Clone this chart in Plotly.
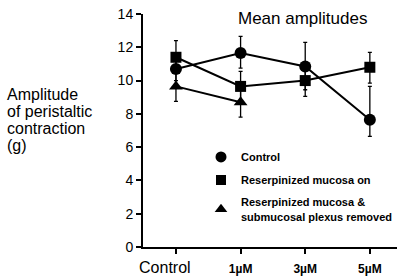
import plotly.graph_objects as go

conditions = ["Control", "1µM", "3µM", "5µM"]
tick_labels = ["Control" + "\u00a0" * 5,
               "<span style='font-size:12px'><b>1µM</b></span>",
               "<span style='font-size:12px'><b>3µM</b></span>",
               "<span style='font-size:12px'><b>5µM</b></span>"]

control_mean = [10.7, 11.65, 10.85, 7.65]
control_err_plus = [0.7, 1.0, 1.45, 2.0]
control_err_minus = [0.7, 0.9, 1.4, 1.0]

reserp_mean = [11.4, 9.65, 10.0, 10.8]
reserp_err_plus = [1.0, 0.9, 1.0, 0.9]
reserp_err_minus = [0.9, 0.9, 0.95, 0.95]

removed_conditions = ["Control", "1µM"]
removed_mean = [9.65, 8.7]
removed_err = [0.9, 0.9]

series_names = ["Control", "Reserpinized mucosa on",
                "Reserpinized mucosa &<br>submucosal plexus removed"]

xpos = {c: i for i, c in enumerate(conditions)}

fig = go.Figure()

def add_series(xs, ys, ep, em, symbol, size, name):
    fig.add_trace(go.Scatter(
        x=[xpos[c] for c in xs], y=ys, mode="lines+markers",
        line=dict(color="black", width=2),
        marker=dict(symbol=symbol, size=size, color="black"),
        error_y=dict(type="data", symmetric=False, array=ep, arrayminus=em,
                     color="black", thickness=1.3, width=2),
        showlegend=False, cliponaxis=False))
    fig.add_trace(go.Scatter(
        x=[None], y=[None], mode="markers", name=name,
        marker=dict(symbol=symbol, size=size - 1, color="black"),
        showlegend=True, legendgroup=name))

add_series(conditions, control_mean, control_err_plus, control_err_minus, "circle", 12, series_names[0])
add_series(conditions, reserp_mean, reserp_err_plus, reserp_err_minus, "square", 11, series_names[1])
add_series(removed_conditions, removed_mean, removed_err, removed_err, "triangle-up", 12, series_names[2])

fig.update_layout(
    width=397, height=278,
    margin=dict(l=143, r=0, t=14, b=31),
    paper_bgcolor="white", plot_bgcolor="white",
    font=dict(family="Arial", color="black"),
    showlegend=True,
    legend=dict(x=1, y=0.449, xanchor="right", yanchor="top",
                bgcolor="rgba(0,0,0,0)", tracegroupgap=4, borderwidth=0,
                font=dict(family="Arial", size=11, color="black", weight="bold")),
    xaxis=dict(range=[-0.51, 3.42], tickvals=[0, 1, 2, 3], ticktext=tick_labels,
               showgrid=False, zeroline=False, showline=True, linecolor="black",
               linewidth=2, ticks="outside", ticklen=5, tickwidth=2, tickcolor="black",
               tickfont=dict(family="Arial", size=16, color="black")),
    yaxis=dict(range=[0, 14], tickvals=[0, 2, 4, 6, 8, 10, 12, 14],
               showgrid=False, zeroline=False, showline=True, linecolor="black",
               linewidth=2, ticks="outside", ticklen=5, tickwidth=2, tickcolor="black",
               tickfont=dict(family="Arial", size=14, color="black")),
)

def py(p):
    return (246.5 - p) / 232.5

def px(p):
    return (p - 143) / 254

fig.add_annotation(text="Mean amplitudes", xref="paper", yref="paper",
                   x=px(302), y=py(18), xanchor="center", yanchor="middle",
                   showarrow=False, font=dict(family="Arial", size=17, color="black"))

ylines = ["Amplitude", "of peristaltic", "contraction", "(g)"]
ycent = [94, 111, 128, 145]
for t, c in zip(ylines, ycent):
    fig.add_annotation(text=t, xref="paper", yref="paper", x=px(5), y=py(c),
                       xanchor="left", yanchor="middle", showarrow=False,
                       font=dict(family="Arial", size=16, color="black"))

fig.write_html("out.html", config={"displayModeBar": False},
               post_script="document.body.style.margin='0px';")
